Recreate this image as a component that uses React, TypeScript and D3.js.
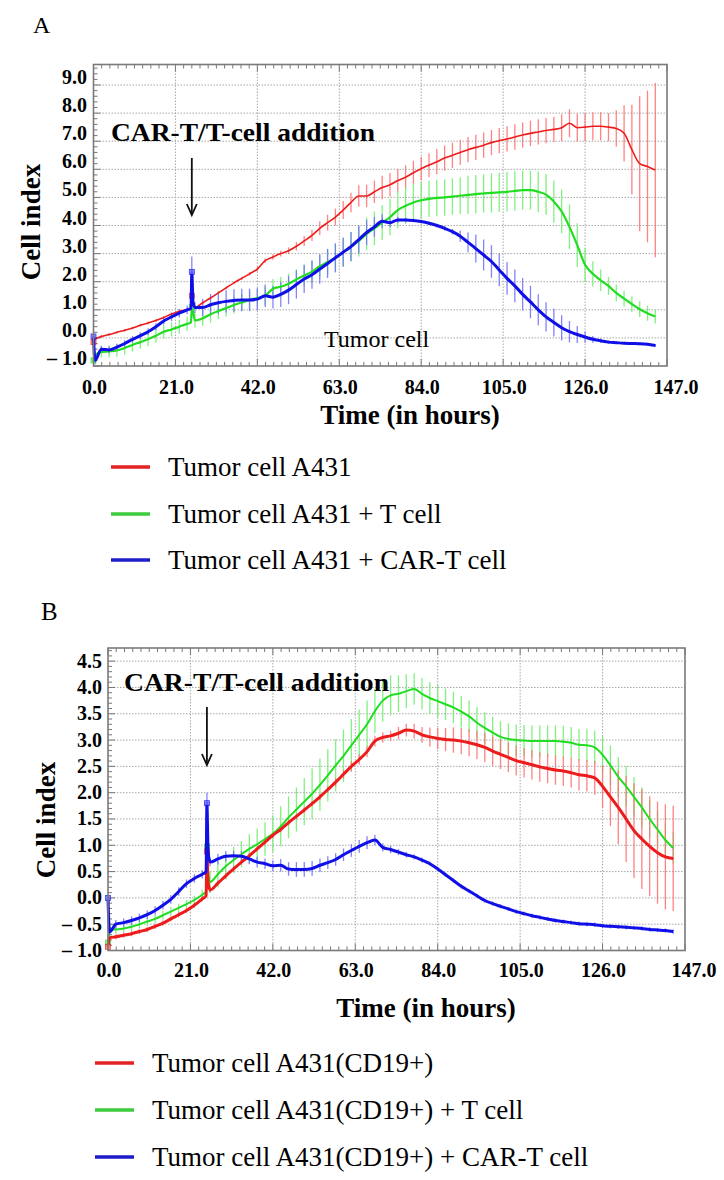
import React from "react";
import * as d3 from "d3";

// ---------- data ----------
const hours = [
  0, 0.4, 2, 4, 6, 8, 10, 12, 14, 16, 18, 20, 22, 24, 25, 25.2, 25.5, 26,
  28, 30, 32, 34, 36, 38, 40, 42, 44, 46,
  48, 50, 52, 54, 56, 58, 60, 62, 64, 66,
  68, 70, 72, 74, 76, 78, 80, 82, 84, 86,
  88, 90, 92, 94, 96, 98, 100, 102, 104, 106,
  108, 110, 112, 114, 116, 118, 120, 122, 124, 126,
  128, 130, 132, 134, 136, 138, 140, 142, 144,
];

const timeTicks = [0, 21, 42, 63, 84, 105, 126, 147];
const yTicksA = [-1, 0, 1, 2, 3, 4, 5, 6, 7, 8, 9];
const yTicksB = [-1, -0.5, 0, 0.5, 1, 1.5, 2, 2.5, 3, 3.5, 4, 4.5];

const legendA = ["Tumor cell A431", "Tumor cell A431 + T cell", "Tumor cell A431 + CAR-T cell"];
const legendB = ["Tumor cell A431(CD19+)", "Tumor cell A431(CD19+) + T cell", "Tumor cell A431(CD19+) + CAR-T cell"];

// Panel A
const redA = [
  -0.15, -0.05, 0.05, 0.12, 0.2, 0.27, 0.35, 0.45, 0.53, 0.62, 0.73, 0.85, 0.95, 1.0, 1.03, 1.5, 1.1, 1.08,
  1.25, 1.42, 1.6, 1.78, 1.96, 2.12, 2.28, 2.45, 2.75, 2.88,
  3.0, 3.1, 3.26, 3.45, 3.65, 3.9, 4.1, 4.3, 4.55, 4.82,
  5.05, 5.05, 5.2, 5.35, 5.45, 5.6, 5.72, 5.88, 6.02, 6.15,
  6.27, 6.4, 6.5, 6.6, 6.7, 6.78, 6.86, 6.95, 7.02, 7.08,
  7.15, 7.22, 7.28, 7.33, 7.38, 7.42, 7.48, 7.64, 7.48, 7.5,
  7.53, 7.53, 7.5, 7.45, 7.28, 6.7, 6.2, 6.1, 5.97,
];
const redErrA = [
  0.05, 0.05, 0.05, 0.05, 0.05, 0.05, 0.05, 0.05, 0.05, 0.05, 0.05, 0.05, 0.05, 0.05, 0, 0.1, 0, 0.05,
  0.05, 0.05, 0.05, 0.05, 0.05, 0.06, 0.06, 0.08, 0.08, 0.1,
  0.1, 0.12, 0.15, 0.18, 0.2, 0.25, 0.28, 0.3, 0.32, 0.35,
  0.38, 0.4, 0.4, 0.42, 0.42, 0.42, 0.42, 0.42, 0.42, 0.42,
  0.45, 0.45, 0.45, 0.45, 0.45, 0.45, 0.45, 0.45, 0.45, 0.45,
  0.45, 0.45, 0.45, 0.45, 0.45, 0.45, 0.48, 0.5, 0.5, 0.5,
  0.5, 0.5, 0.5, 0.65, 1.0, 1.6, 2.4, 2.7, 3.1,
];
const greenA = [
  -0.8, -0.62, -0.5, -0.48, -0.45, -0.36, -0.25, -0.15, -0.05, 0.08, 0.22, 0.3, 0.4, 0.5, 0.55, 1.1, 0.95, 0.62,
  0.7, 0.84, 0.96, 1.06, 1.17, 1.26, 1.35, 1.42, 1.5, 1.75,
  1.82, 1.93, 2.08, 2.22, 2.36, 2.55, 2.7, 2.85, 3.05, 3.25,
  3.45, 3.7, 3.9, 4.1, 4.3, 4.55, 4.7, 4.82, 4.9, 4.95,
  4.98, 5.0, 5.03, 5.06, 5.09, 5.12, 5.14, 5.16, 5.18, 5.2,
  5.23, 5.26, 5.26, 5.2, 5.1, 4.85, 4.5, 3.95, 3.3, 2.6,
  2.28, 2.05, 1.85, 1.6, 1.4, 1.2, 1.02, 0.88, 0.76,
];
const greenErrA = [
  0.1, 0.15, 0.2, 0.22, 0.22, 0.24, 0.24, 0.24, 0.25, 0.25, 0.25, 0.25, 0.25, 0.25, 0, 0.1, 0, 0.25,
  0.28, 0.3, 0.3, 0.3, 0.3, 0.3, 0.3, 0.3, 0.32, 0.35,
  0.35, 0.35, 0.36, 0.38, 0.4, 0.42, 0.45, 0.48, 0.5, 0.52,
  0.55, 0.58, 0.6, 0.62, 0.65, 0.65, 0.65, 0.65, 0.65, 0.65,
  0.65, 0.65, 0.65, 0.65, 0.68, 0.68, 0.68, 0.7, 0.7, 0.7,
  0.7, 0.7, 0.7, 0.72, 0.72, 0.75, 0.78, 0.8, 0.78, 0.6,
  0.45, 0.38, 0.32, 0.3, 0.28, 0.28, 0.28, 0.27, 0.25,
];
const blueA = [
  0.05, -0.8, -0.4, -0.43, -0.33, -0.2, -0.05, 0.08, 0.22, 0.4, 0.6, 0.75, 0.88, 1.0, 1.05, 2.35, 1.3, 1.08,
  1.08, 1.18, 1.25, 1.3, 1.33, 1.35, 1.35, 1.38, 1.5, 1.45,
  1.55, 1.7, 1.9, 2.1, 2.25, 2.45, 2.65, 2.85, 3.05, 3.25,
  3.5, 3.75, 3.95, 4.15, 4.1, 4.2, 4.2, 4.18, 4.14, 4.08,
  4.0, 3.9, 3.78, 3.62, 3.4, 3.18, 2.95, 2.72, 2.42, 2.12,
  1.85, 1.55, 1.28, 1.0, 0.75, 0.55, 0.36, 0.22, 0.12, 0.03,
  -0.05, -0.1, -0.15, -0.17, -0.19, -0.2, -0.21, -0.23, -0.27,
];
const blueErrA = [
  0.1, 0.15, 0.12, 0.12, 0.12, 0.12, 0.12, 0.12, 0.12, 0.12, 0.12, 0.15, 0.15, 0.15, 0, 0.55, 0, 0.2,
  0.3, 0.38, 0.4, 0.4, 0.4, 0.4, 0.4, 0.4, 0.4, 0.4,
  0.45, 0.5, 0.5, 0.5, 0.5, 0.52, 0.52, 0.52, 0.52, 0.52,
  0.5, 0.45, 0.35, 0.25, 0.15, 0.1, 0.08, 0.06, 0.06, 0.06,
  0.06, 0.08, 0.1, 0.2, 0.35, 0.5, 0.55, 0.58, 0.58, 0.58,
  0.58, 0.58, 0.58, 0.55, 0.52, 0.5, 0.45, 0.38, 0.3, 0.2,
  0.12, 0.08, 0.06, 0.05, 0.05, 0.05, 0.05, 0.05, 0.05,
];

// Panel B
const redB = [
  -0.93, -0.76, -0.74, -0.71, -0.68, -0.64, -0.6, -0.54, -0.48, -0.4, -0.32, -0.24, -0.14, -0.02, 0.04, 0.88, 0.3, 0.15,
  0.28, 0.42, 0.55, 0.68, 0.8, 0.93, 1.06, 1.19, 1.3, 1.43,
  1.55, 1.67, 1.79, 1.92, 2.06, 2.2, 2.35, 2.5, 2.63, 2.78,
  2.98, 3.05, 3.08, 3.13, 3.19, 3.17, 3.1, 3.06, 3.03, 3.01,
  3.0, 2.98, 2.95, 2.91, 2.86, 2.79, 2.73, 2.67, 2.61, 2.57,
  2.53, 2.49, 2.46, 2.43, 2.41, 2.38, 2.34, 2.32, 2.28, 2.12,
  1.92, 1.72, 1.5, 1.28, 1.12, 0.98, 0.86, 0.78, 0.75,
];
const redErrB = [
  0.05, 0.05, 0.05, 0.05, 0.05, 0.05, 0.05, 0.05, 0.05, 0.05, 0.05, 0.05, 0.05, 0.05, 0, 0.05, 0, 0.05,
  0.05, 0.05, 0.05, 0.05, 0.05, 0.05, 0.05, 0.05, 0.05, 0.05,
  0.05, 0.05, 0.05, 0.06, 0.06, 0.08, 0.08, 0.1, 0.1, 0.1,
  0.1, 0.1, 0.1, 0.12, 0.12, 0.14, 0.15, 0.18, 0.2, 0.22,
  0.24, 0.25, 0.26, 0.27, 0.28, 0.28, 0.28, 0.28, 0.28, 0.28,
  0.28, 0.28, 0.28, 0.28, 0.28, 0.28, 0.3, 0.3, 0.32, 0.4,
  0.55, 0.7, 0.82, 0.9, 0.95, 0.95, 0.97, 1.0, 1.0,
];
const greenB = [
  -0.85, -0.58, -0.6, -0.58, -0.55, -0.5, -0.45, -0.4, -0.33, -0.26, -0.19, -0.12, -0.04, 0.06, 0.12, 0.98, 0.5, 0.3,
  0.45, 0.6, 0.72, 0.83, 0.93, 1.02, 1.12, 1.22, 1.36, 1.53,
  1.68, 1.83, 1.98, 2.15, 2.33, 2.52, 2.7, 2.9, 3.1, 3.3,
  3.55, 3.75, 3.85, 3.88, 3.93, 3.97, 3.88, 3.8, 3.74, 3.68,
  3.62, 3.54, 3.45, 3.33, 3.23, 3.14, 3.06, 3.02, 3.0, 2.99,
  2.98, 2.98, 2.98, 2.98, 2.97, 2.95, 2.91, 2.9, 2.86, 2.72,
  2.52, 2.3, 2.12, 1.92, 1.72, 1.5, 1.3, 1.1, 0.95,
];
const greenErrB = [
  0.05, 0.08, 0.08, 0.08, 0.08, 0.08, 0.08, 0.08, 0.08, 0.08, 0.08, 0.08, 0.08, 0.1, 0, 0.1, 0, 0.2,
  0.25, 0.25, 0.25, 0.25, 0.28, 0.3, 0.32, 0.35, 0.38, 0.4,
  0.42, 0.45, 0.48, 0.5, 0.5, 0.5, 0.5, 0.5, 0.48, 0.45,
  0.42, 0.4, 0.38, 0.35, 0.32, 0.3, 0.3, 0.3, 0.3, 0.3,
  0.3, 0.3, 0.3, 0.3, 0.3, 0.3, 0.3, 0.3, 0.3, 0.3,
  0.3, 0.3, 0.3, 0.3, 0.3, 0.3, 0.3, 0.32, 0.32, 0.35,
  0.38, 0.38, 0.38, 0.38, 0.38, 0.36, 0.35, 0.33, 0.3,
];
const blueB = [
  0.0, -0.65, -0.5, -0.47, -0.43, -0.38, -0.32, -0.24, -0.14, -0.03, 0.12, 0.27, 0.37, 0.45, 0.5, 1.8, 0.9, 0.68,
  0.74, 0.79, 0.8, 0.79, 0.74, 0.68, 0.65, 0.61, 0.62, 0.55,
  0.54, 0.54, 0.56, 0.62, 0.67, 0.73, 0.82, 0.9, 0.98, 1.05,
  1.1, 0.96, 0.92, 0.87, 0.82, 0.78, 0.72, 0.65, 0.55, 0.44,
  0.33, 0.22, 0.13, 0.04, -0.05, -0.11, -0.16, -0.21, -0.26, -0.3,
  -0.34, -0.37, -0.4, -0.43, -0.45, -0.47, -0.49, -0.5, -0.51, -0.53,
  -0.54, -0.55, -0.56, -0.57, -0.58, -0.6, -0.61, -0.62, -0.64,
];
const blueErrB = [
  0.05, 0.1, 0.08, 0.08, 0.08, 0.08, 0.08, 0.08, 0.08, 0.08, 0.08, 0.08, 0.08, 0.08, 0, 0.2, 0, 0.08,
  0.1, 0.1, 0.1, 0.1, 0.1, 0.1, 0.1, 0.1, 0.12, 0.13,
  0.14, 0.14, 0.14, 0.13, 0.12, 0.12, 0.12, 0.12, 0.12, 0.12,
  0.1, 0.08, 0.07, 0.06, 0.05, 0.05, 0.05, 0.04, 0.04, 0.04,
  0.04, 0.04, 0.04, 0.04, 0.04, 0.04, 0.04, 0.04, 0.04, 0.04,
  0.04, 0.04, 0.04, 0.04, 0.04, 0.04, 0.04, 0.04, 0.04, 0.04,
  0.04, 0.04, 0.04, 0.04, 0.04, 0.04, 0.04, 0.04, 0.04,
];

// ---------- styles ----------
const SERIF = "'Liberation Serif', 'Times New Roman', serif";
const LINE = { red: "#ec1c1c", green: "#22dc22", blue: "#1010e6" } as const;
const BAR = { red: "#ff6e6e", green: "#6cf06c", blue: "#6e6eff" } as const;
const LEGEND = { red: "#e32222", green: "#3ccc3c", blue: "#1c1cc8" } as const;
type Key = keyof typeof LINE;

type Series = { key: Key; values: number[]; errors: number[]; width: number };

type PanelProps = {
  xRange: [number, number];
  yDomain: [number, number];
  yRange: [number, number];
  yTicks: number[];
  yMinorStep: number;
  yLabelRight: number;
  yLabelDy: number;
  xLabelY: number;
  series: Series[];
  letter: { text: string; x: number; y: number; size: number };
  addition: { x: number; y: number; len: number };
  arrow: { t: number; y1: number; y2: number };
  cellIndex: { x: number; y: number };
  timeTitle: { x: number; y: number };
  legend: { labels: string[]; x1: number; x2: number; tx: number; ys: number[] };
  tumor?: { x: number; y: number };
};

function fmt(v: number) {
  if (v < 0) return "\u2013 " + Math.abs(v).toFixed(1);
  return v.toFixed(1);
}

function Panel(p: PanelProps) {
  const x = d3.scaleLinear().domain([0, 147]).range(p.xRange);
  const y = d3.scaleLinear().domain(p.yDomain).range(p.yRange);
  const [x0, x1] = p.xRange;
  const yb = p.yRange[0];
  const yt = p.yRange[1];
  const line = d3
    .line<number>()
    .x((_, i) => x(hours[i]))
    .y((d) => y(d))
    .curve(d3.curveMonotoneX);
  const minorX = d3.range(0, 147.001, 2.1);
  const minorY = d3.range(p.yDomain[0], p.yDomain[1] + 1e-6, p.yMinorStep);
  const keys = ["red", "green", "blue"] as Key[];
  return (
    <g>
      <text x={p.letter.x} y={p.letter.y} fontFamily={SERIF} fontSize={p.letter.size}>
        {p.letter.text}
      </text>
      {/* grid */}
      {timeTicks.slice(1, -1).map((t) => (
        <line key={"gx" + t} x1={x(t)} x2={x(t)} y1={yt} y2={yb} stroke="#a8a8a8" strokeWidth={1} strokeDasharray="1.5,1.5" />
      ))}
      {p.yTicks
        .filter((v) => y(v) > yt + 2 && y(v) < yb - 2)
        .map((v) => (
          <line key={"gy" + v} x1={x0} x2={x1} y1={y(v)} y2={y(v)} stroke="#a8a8a8" strokeWidth={1} strokeDasharray="1.5,1.5" />
        ))}
      {/* minor ticks */}
      {minorX.map((t, i) => {
        const major = Math.abs(t / 21 - Math.round(t / 21)) < 1e-6;
        const len = major ? 7 : 4;
        return (
          <g key={"mx" + i}>
            <line x1={x(t)} x2={x(t)} y1={yb} y2={yb - len} stroke="#777" strokeWidth={1} />
            <line x1={x(t)} x2={x(t)} y1={yt} y2={yt + len} stroke="#777" strokeWidth={1} />
          </g>
        );
      })}
      {minorY.map((v, i) => {
        const major = p.yTicks.some((t) => Math.abs(t - v) < 1e-6);
        const len = major ? 7 : 4;
        return <line key={"my" + i} x1={x0} x2={x0 + len} y1={y(v)} y2={y(v)} stroke="#777" strokeWidth={1} />;
      })}
      {/* error bars */}
      {p.series.map((s) => (
        <g key={"b" + s.key} stroke={BAR[s.key]} strokeWidth={1.3} opacity={0.85}>
          {s.values.map((v, i) =>
            s.errors[i] > 0 ? (
              <line key={i} x1={x(hours[i])} x2={x(hours[i])} y1={y(v - s.errors[i])} y2={y(v + s.errors[i])} />
            ) : null
          )}
        </g>
      ))}
      {/* lines */}
      {p.series.map((s) => (
        <g key={"l" + s.key}>
          <path d={line(s.values) || ""} fill="none" stroke={LINE[s.key]} strokeWidth={s.width} strokeLinejoin="round" />
          {[0, 15].map((i) => (
            <rect key={i} x={x(hours[i]) - 2.5} y={y(s.values[i]) - 2.5} width={5} height={5} fill={BAR[s.key]} stroke={LINE[s.key]} strokeWidth={0.8} opacity={0.8} />
          ))}
        </g>
      ))}
      {/* frame */}
      <rect x={x0} y={yt} width={x1 - x0} height={yb - yt} fill="none" stroke="#7a7a7a" strokeWidth={1.6} />
      {/* tick labels */}
      {p.yTicks.map((v) => (
        <text key={"yl" + v} x={p.yLabelRight} y={y(v) + p.yLabelDy} textAnchor="end" fontFamily={SERIF} fontWeight="bold" fontSize={20}>
          {fmt(v)}
        </text>
      ))}
      {timeTicks.map((t, i) => (
        <text key={"xl" + t} x={x(t) + (i === timeTicks.length - 1 ? 9 : 1)} y={p.xLabelY} textAnchor="middle" fontFamily={SERIF} fontWeight="bold" fontSize={20}>
          {t.toFixed(1)}
        </text>
      ))}
      {/* annotation */}
      <text x={p.addition.x} y={p.addition.y} fontFamily={SERIF} fontWeight="bold" fontSize={25} textLength={p.addition.len} lengthAdjust="spacingAndGlyphs">
        CAR-T/T-cell addition
      </text>
      <g stroke="#111" strokeWidth={1.8} fill="none">
        <line x1={x(p.arrow.t)} x2={x(p.arrow.t)} y1={p.arrow.y1} y2={p.arrow.y2} />
        <polyline points={`${x(p.arrow.t) - 5},${p.arrow.y2 - 11} ${x(p.arrow.t)},${p.arrow.y2} ${x(p.arrow.t) + 5},${p.arrow.y2 - 11}`} />
      </g>
      {p.tumor && (
        <text x={p.tumor.x} y={p.tumor.y} fontFamily={SERIF} fontSize={24}>
          Tumor cell
        </text>
      )}
      {/* axis titles */}
      <text transform={`translate(${p.cellIndex.x},${p.cellIndex.y}) rotate(-90)`} textAnchor="middle" fontFamily={SERIF} fontWeight="bold" fontSize={27}>
        Cell index
      </text>
      <text x={p.timeTitle.x} y={p.timeTitle.y} textAnchor="middle" fontFamily={SERIF} fontWeight="bold" fontSize={27}>
        Time (in hours)
      </text>
      {/* legend */}
      {p.legend.labels.map((lab, i) => (
        <g key={"lg" + i}>
          <line x1={p.legend.x1} x2={p.legend.x2} y1={p.legend.ys[i]} y2={p.legend.ys[i]} stroke={LEGEND[keys[i]]} strokeWidth={3.5} />
          <text x={p.legend.tx} y={p.legend.ys[i] + 9} fontFamily={SERIF} fontSize={27}>
            {lab}
          </text>
        </g>
      ))}
    </g>
  );
}

export default function App() {
  const seriesA: Series[] = [
    { key: "red", values: redA, errors: redErrA, width: 1.6 },
    { key: "green", values: greenA, errors: greenErrA, width: 2.2 },
    { key: "blue", values: blueA, errors: blueErrA, width: 3 },
  ];
  const seriesB: Series[] = [
    { key: "green", values: greenB, errors: greenErrB, width: 2 },
    { key: "red", values: redB, errors: redErrB, width: 3 },
    { key: "blue", values: blueB, errors: blueErrB, width: 3 },
  ];
  return (
    <svg width={724} height={1180} style={{ position: "absolute", left: 0, top: 0, background: "#fff" }}>
      <rect width={724} height={1180} fill="#fff" />
      <Panel
        xRange={[93.5, 667]}
        yDomain={[-1, 9.73]}
        yRange={[366, 64.5]}
        yTicks={yTicksA}
        yMinorStep={0.2}
        yLabelRight={87}
        yLabelDy={-1}
        xLabelY={394}
        series={seriesA}
        letter={{ text: "A", x: 33, y: 33, size: 24 }}
        addition={{ x: 111, y: 141, len: 264 }}
        arrow={{ t: 25.2, y1: 158, y2: 215 }}
        cellIndex={{ x: 40, y: 222 }}
        timeTitle={{ x: 410, y: 424 }}
        legend={{ labels: legendA, x1: 111, x2: 150, tx: 168, ys: [467, 514, 560] }}
        tumor={{ x: 324, y: 347 }}
      />
      <Panel
        xRange={[108, 685]}
        yDomain={[-1, 4.75]}
        yRange={[950.5, 648]}
        yTicks={yTicksB}
        yMinorStep={0.1}
        yLabelRight={102}
        yLabelDy={6.5}
        xLabelY={977}
        series={seriesB}
        letter={{ text: "B", x: 41, y: 620, size: 25 }}
        addition={{ x: 124, y: 691, len: 265 }}
        arrow={{ t: 25.2, y1: 707, y2: 765 }}
        cellIndex={{ x: 55, y: 820 }}
        timeTitle={{ x: 426, y: 1017 }}
        legend={{ labels: legendB, x1: 95, x2: 134, tx: 152, ys: [1063, 1110, 1157] }}
      />
    </svg>
  );
}
